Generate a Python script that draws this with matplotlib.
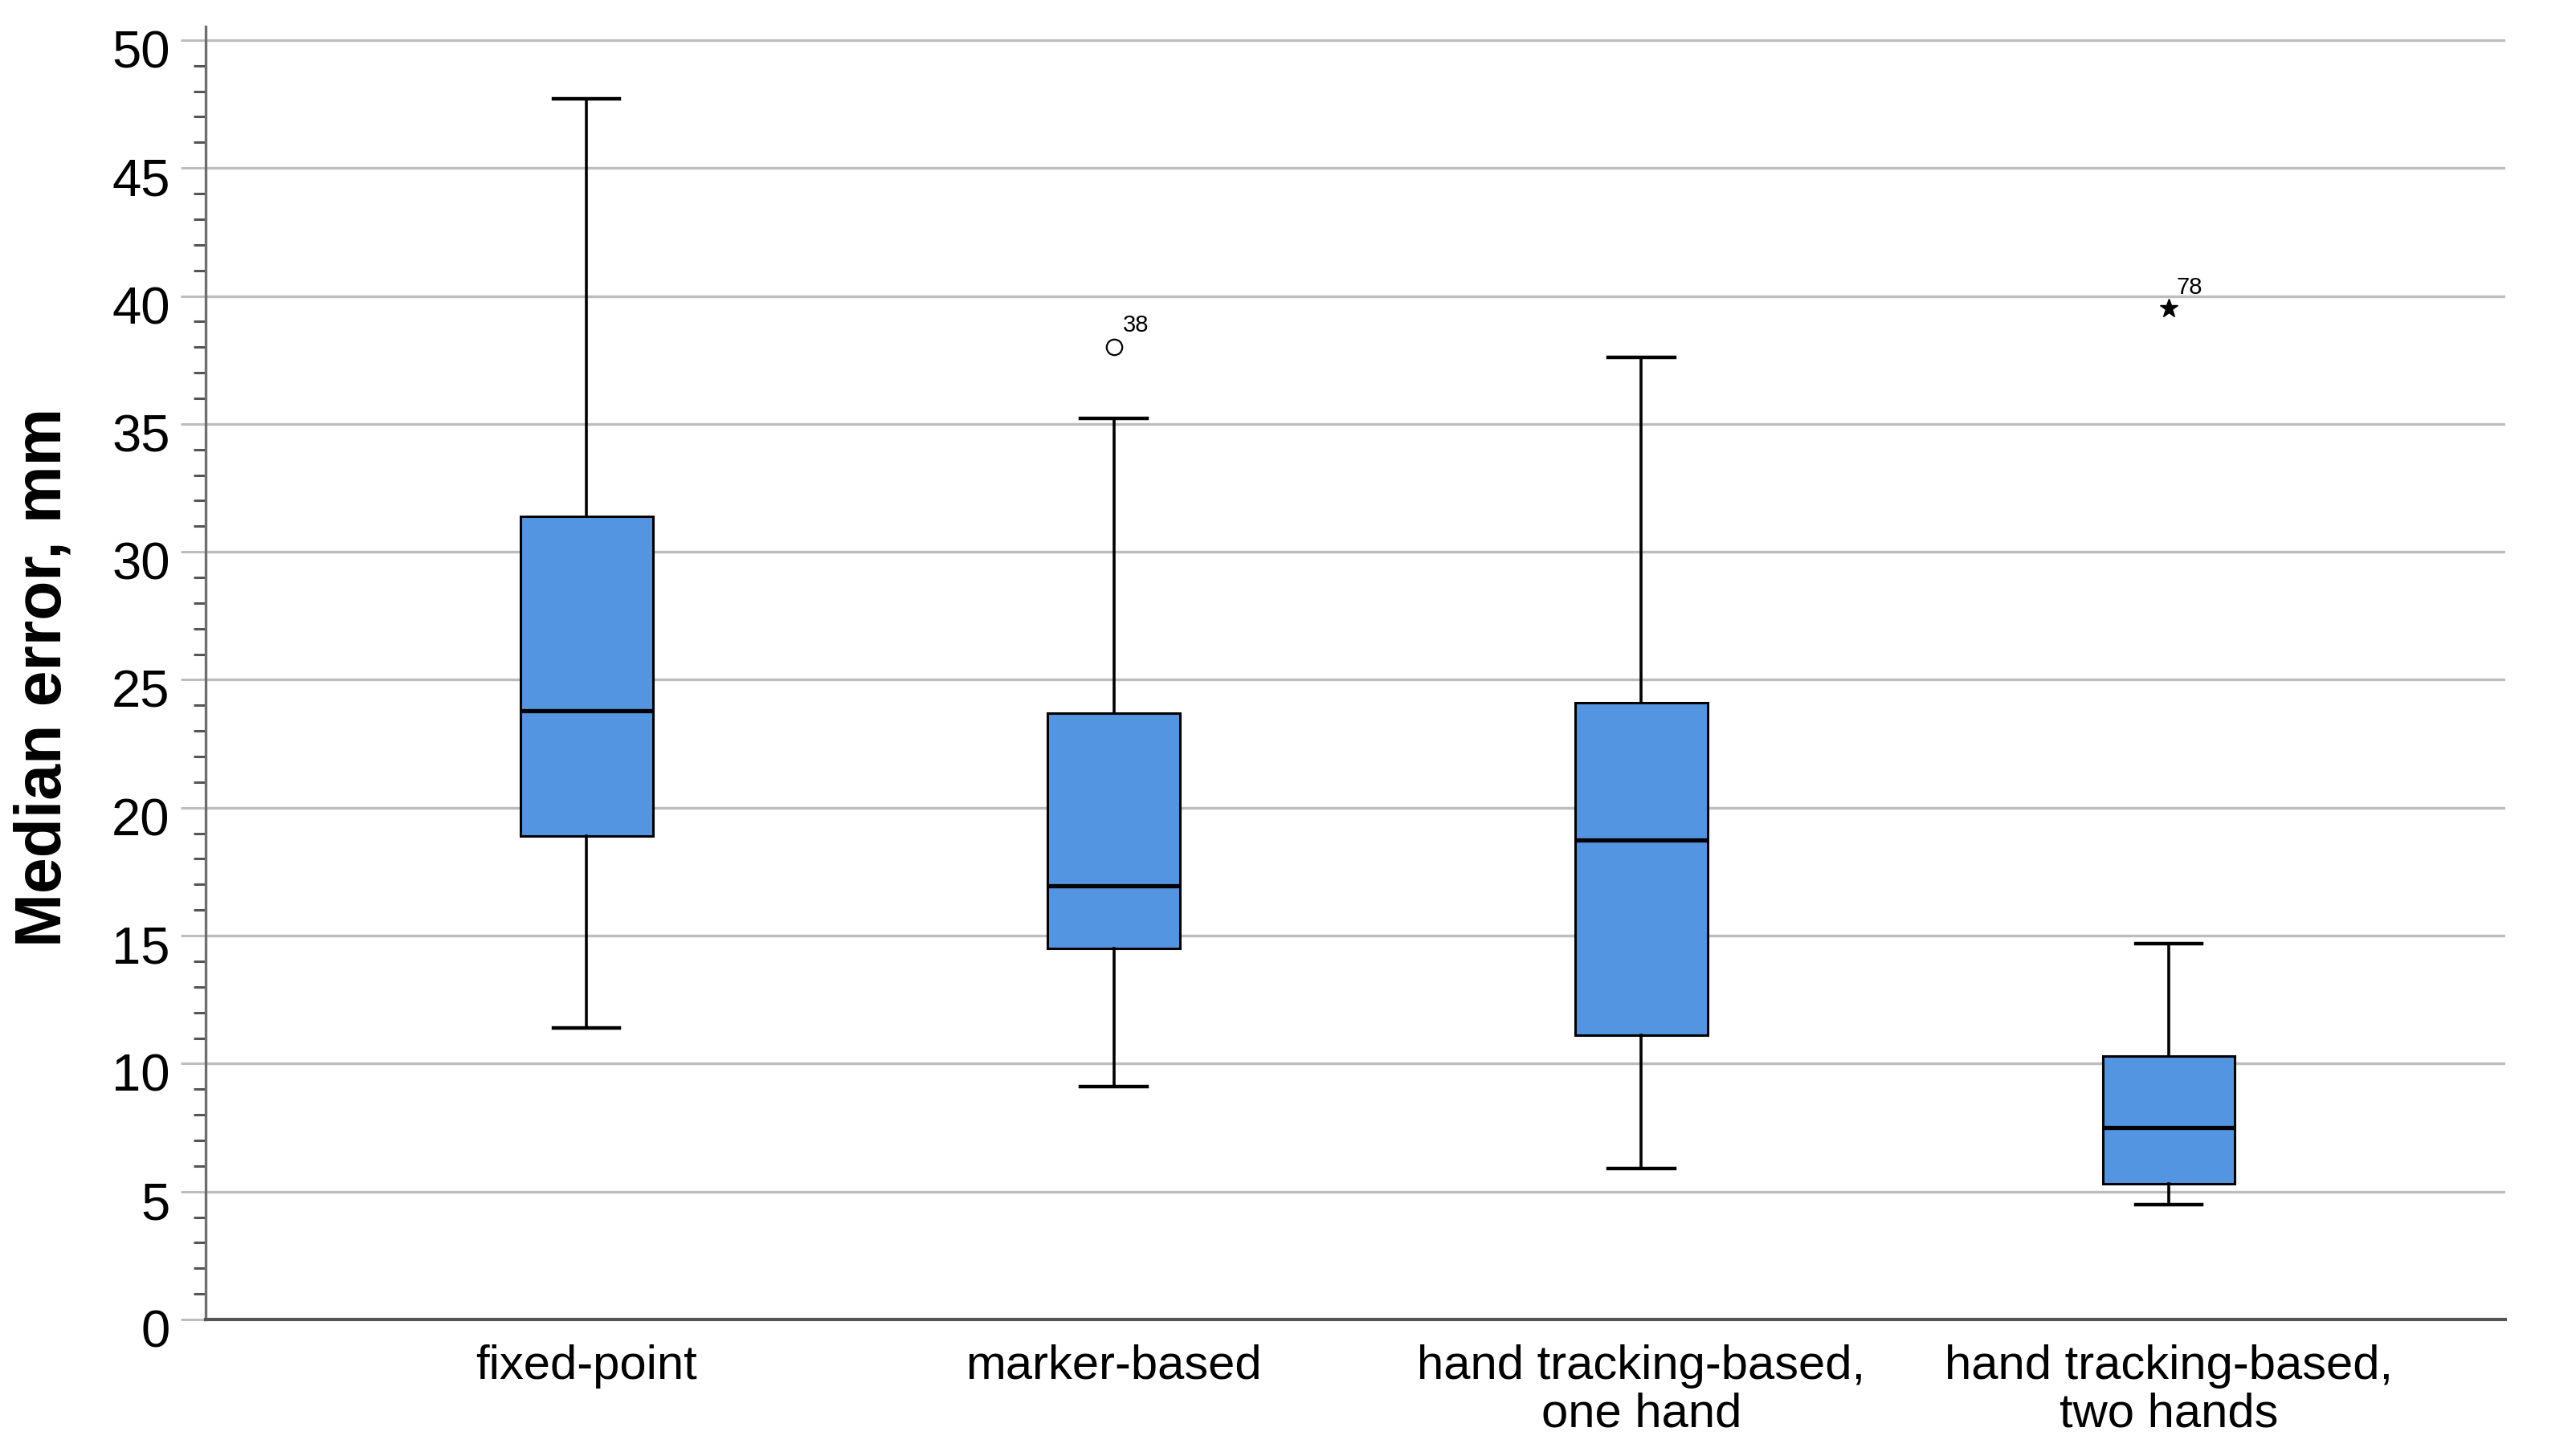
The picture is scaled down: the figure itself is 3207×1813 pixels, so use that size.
import matplotlib
matplotlib.use("Agg")
import matplotlib.pyplot as plt
from matplotlib.transforms import ScaledTranslation
from matplotlib.ticker import MultipleLocator

plt.rcParams['font.family'] = ['Liberation Sans', 'DejaVu Sans']

categories = ["fixed-point", "marker-based",
              "hand tracking-based,\none hand", "hand tracking-based,\ntwo hands"]
whislo = [11.4, 9.1, 5.9, 4.5]
q1 = [18.9, 14.5, 11.1, 5.3]
med = [23.8, 16.95, 18.75, 7.5]
q3 = [31.4, 23.7, 24.1, 10.3]
whishi = [47.7, 35.2, 37.6, 14.7]
outlier_cat = [1]
outlier_val = [38.0]
outlier_lab = ["38"]
extreme_cat = [3]
extreme_val = [39.5]
extreme_lab = ["78"]

fig = plt.figure(figsize=(32.07, 18.13), dpi=100)
ax = fig.add_axes([256/3207, 1-1643/1813, (3119-256)/3207, (1643-33)/1813])

stats = []
for i in range(len(categories)):
    stats.append(dict(whislo=whislo[i], q1=q1[i], med=med[i], q3=q3[i],
                      whishi=whishi[i], fliers=[]))

ax.bxp(stats, positions=range(len(categories)), widths=0.251, capwidths=0.126,
       patch_artist=True, showfliers=False,
       boxprops=dict(facecolor='#5495E1', edgecolor='black', linewidth=2.2),
       medianprops=dict(color='black', linewidth=3.8, solid_capstyle='butt'),
       whiskerprops=dict(color='black', linewidth=2.6),
       capprops=dict(color='black', linewidth=3.2),
       zorder=3)

ax.plot(outlier_cat, outlier_val, linestyle='none', marker='o', markersize=14,
        markerfacecolor='white', markeredgecolor='black', markeredgewidth=1.6, zorder=4)
ax.plot(extreme_cat, extreme_val, linestyle='none', marker='*', markersize=17,
        color='black', zorder=4)
for c, v, t in zip(outlier_cat, outlier_val, outlier_lab):
    ax.annotate(t, (c, v), xytext=(8, 14), textcoords='offset points',
                ha='left', va='baseline', fontsize=21)
for c, v, t in zip(extreme_cat, extreme_val, extreme_lab):
    ax.annotate(t, (c, v), xytext=(7, 13), textcoords='offset points',
                ha='left', va='baseline', fontsize=21)

ax.set_xlim(-0.722, 3.638)
ax.set_ylim(0, 50.53)
ax.set_xticks(range(len(categories)))
ax.set_xticklabels(categories, fontsize=43, linespacing=1.12)
ax.tick_params(axis='x', length=0, pad=22)

ax.yaxis.set_major_locator(MultipleLocator(5))
ax.yaxis.set_minor_locator(MultipleLocator(1))
ax.tick_params(axis='y', which='major', length=22, width=2.2, color='#bdbdbd',
               labelsize=47, pad=10)
ax.tick_params(axis='y', which='minor', length=11, width=2.2, color='#555555')
offset = ScaledTranslation(0, -0.11, fig.dpi_scale_trans)
for lab in ax.get_yticklabels():
    lab.set_transform(lab.get_transform() + offset)

ax.grid(axis='y', which='major', color='#bdbdbd', linewidth=2.4, zorder=0)
ax.set_axisbelow(True)

for s in ['top', 'right']:
    ax.spines[s].set_visible(False)
ax.spines['left'].set_color('#6e6e6e')
ax.spines['left'].set_linewidth(2.4)
ax.spines['bottom'].set_color('#555555')
ax.spines['bottom'].set_linewidth(3)
ax.spines['bottom'].set_zorder(5)

fig.text(55/3207, 1-843/1813, "Median error, mm", rotation=90, ha='center',
         va='center', fontsize=58, fontweight='bold')

fig.savefig("out.png", dpi=100, facecolor='white')
